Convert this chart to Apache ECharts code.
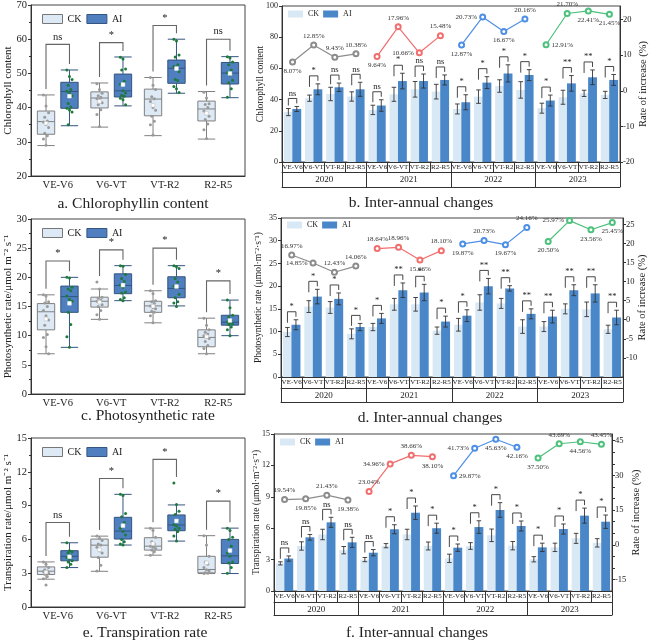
<!DOCTYPE html>
<html><head><meta charset="utf-8">
<script src="https://cdn.jsdelivr.net/npm/echarts@6.0.0/dist/echarts.min.js"></script>
<style>html,body{margin:0;padding:0;background:#fff}#c{width:656px;height:642px}</style>
</head><body><div id="c"></div>
<script>
// ---------------- DATA ----------------
const stages = ['VE-V6','V6-VT','VT-R2','R2-R5'];
const years = ['2020','2021','2022','2023'];
const stages16 = years.flatMap(() => stages);

// a. Chlorophyll box stats [min, Q1, median, Q3, max]
const chlBoxCK = [[28.9,32.2,35.9,39.0,43.7],[34.3,39.9,42.8,44.6,47.2],[31.8,37.6,42.5,45.4,48.8],[30.8,36.1,39.6,41.9,44.7]];
const chlBoxAI = [[34.7,39.8,44.7,47.4,51.0],[40.5,43.1,44.9,49.8,54.8],[44.2,47.1,51.5,53.9,60.0],[42.9,46.9,50.1,53.2,54.9]];
const chlPtsCK = [[43.7,40.5,38.5,37.2,36.1,35.8,35.1,34.2,32.5,31.8,30.8,29.0],[47.0,45.3,44.2,43.5,43.0,42.6,42.3,41.4,40.8,39.4,38.0,34.5],[48.8,46.5,45.3,43.2,42.6,41.8,40.0,39.2,37.5,36.0,35.0,32.0],[44.5,42.8,41.1,40.9,40.0,39.0,38.2,37.5,36.5,35.2,33.5,31.0]];
const chlPtsAI = [[51.0,49.1,48.2,46.5,45.3,44.8,44.2,43.5,41.2,40.2,39.8,39.3,38.7,35.0],[54.7,54.2,51.3,51.0,47.7,46.8,44.9,44.3,43.6,43.3,42.7,42.3,40.8],[60.0,59.5,55.4,54.8,52.5,52.0,51.6,50.5,48.2,47.9,46.2,45.5,44.4],[54.9,54.5,53.3,52.5,51.0,50.2,49.5,48.0,47.3,45.5,43.0]];
const chlBracket = [58.5,59,64,60];
const chlSig = ['ns','*','*','ns'];

// c. Photosynthetic rate
const phoBoxCK = [[6.9,11.0,14.1,15.5,17.0],[12.8,14.9,15.9,16.6,18.0],[12.2,14.0,15.1,15.9,17.7],[6.9,8.1,9.7,11.0,13.0]];
const phoBoxAI = [[8.0,14.0,16.7,18.5,20.0],[16.0,17.2,18.6,20.6,22.0],[15.1,16.5,18.1,20.1,22.0],[10.0,11.8,12.3,13.5,16.1]];
const phoPtsCK = [[17.0,16.8,15.8,15.6,15.0,14.3,13.4,12.7,11.8,10.2,9.7,8.1,6.9],[19.2,18.0,16.6,16.4,16.1,15.9,15.8,15.3,15.0,14.3,13.6,12.8],[17.7,17.2,16.0,15.8,15.5,15.1,14.8,14.6,14.2,14.0,13.4,12.2],[13.0,11.8,11.0,10.6,10.3,10.0,9.7,9.5,9.0,8.3,7.8,6.9]];
const phoPtsAI = [[20.0,19.9,18.3,18.0,17.7,16.8,16.2,15.9,14.0,11.9,9.8,8.0],[22.0,21.9,20.5,19.8,19.3,18.7,18.3,17.5,17.3,16.5,16.2,16.0],[22.0,21.8,21.5,19.8,19.2,18.5,18.3,17.1,16.5,15.8,15.6,15.0],[16.1,14.8,13.5,13.2,12.6,12.4,12.2,12.0,11.9,11.5,11.0,10.0]];
const phoBracket = [22.8,24.7,25.0,19.4];
const phoSig = ['*','*','*','*'];

// e. Transpiration rate
const traBoxCK = [[2.47,2.88,3.18,3.56,4.0],[3.17,4.42,5.49,6.03,6.29],[4.6,5.05,5.4,6.15,7.0],[2.97,3.03,3.33,4.5,6.33]];
const traBoxAI = [[3.5,4.1,4.5,5.0,5.7],[5.5,6.03,6.74,7.96,10.0],[5.85,6.77,7.28,8.17,9.06],[2.97,3.86,4.54,6.0,7.0]];
const traPtsCK = [[4.0,3.8,3.5,3.3,3.2,3.15,3.1,3.0,2.9,2.7,2.5,1.95],[6.3,6.1,5.9,5.6,5.5,5.3,5.0,4.8,4.4,3.7,3.2],[7.0,6.8,6.2,5.8,5.6,5.4,5.3,5.2,5.05,4.9,4.6],[6.33,5.5,4.5,4.0,3.8,3.5,3.3,3.2,3.05,3.0,2.97]];
const traPtsAI = [[5.7,5.0,4.9,4.8,4.6,4.4,4.3,4.1,4.0,3.8,3.5],[10.0,9.9,8.3,8.0,7.5,7.0,6.7,6.4,6.0,5.8,5.6,5.5],[11.0,9.1,8.5,8.2,7.6,7.3,7.2,7.0,6.9,6.7,6.3,5.85],[7.0,6.8,6.2,6.0,5.4,4.8,4.5,4.0,3.9,3.5,3.0]];
const traBracket = [7.5,11.4,13.1,9.4];
const traSig = ['ns','*','*','*'];

// b. Chlorophyll inter-annual (mean, sd)
const chlCK   = [32.0,40.9,43.6,42.0, 33.4,43.4,46.6,45.1, 34.0,41.9,48.7,46.2, 34.5,41.5,44.0,43.0];
const chlCKsd = [2.3,2.0,4.3,3.0, 3.0,4.5,5.0,4.7, 3.2,4.3,4.0,5.3, 3.2,4.5,2.0,2.3];
const chlAI   = [34.0,46.6,47.9,46.6, 36.2,51.9,51.9,52.6, 38.3,50.9,56.8,55.7, 39.4,50.4,54.3,52.6];
const chlAIsd = [1.6,3.5,2.7,4.5, 3.7,5.0,4.5,3.2, 4.8,3.8,5.5,3.5, 3.5,5.0,4.7,3.5];
const chlRate = [8.07,12.85,9.43,10.38, 9.64,17.96,10.66,15.48, 12.87,20.73,16.67,20.16, 12.91,21.70,22.41,21.45];
const chlYearSig = ['ns','*','ns','ns', 'ns','*','ns','ns', '*','*','*','*', '*','**','**','*'];

// d. Photosynthetic inter-annual
const phoCK   = [9.9,15.5,15.3,9.5, 11.0,16.0,16.0,10.2, 11.5,16.4,16.2,11.1, 11.1,15.0,14.9,10.5];
const phoCKsd = [1.0,1.3,1.3,1.1, 0.8,1.3,1.5,0.8, 1.4,1.7,1.1,1.5, 1.1,1.1,1.6,0.9];
const phoAI   = [11.5,17.7,17.2,11.0, 12.9,19.1,18.6,12.2, 13.5,20.0,19.5,13.9, 13.3,19.1,18.4,13.1];
const phoAIsd = [1.1,1.6,1.3,0.8, 1.1,1.6,1.8,1.2, 1.3,1.7,0.6,1.1, 1.4,1.2,1.9,1.6];
const phoRate = [16.97,14.85,12.43,14.06, 18.64,18.96,15.66,18.10, 19.87,20.73,19.67,24.16, 20.50,25.97,23.56,25.45];
const phoYearSig = ['*','*','*','*', '*','**','*','*', '*','**','**','**', '**','**','**','**'];

// f. Transpiration inter-annual
const traCK   = [2.64,4.3,5.4,3.9, 3.0,4.33,5.4,4.3, 3.12,4.3,5.32,4.33, 3.03,4.17,5.03,4.6];
const traCKsd = [0.15,0.4,0.5,0.35, 0.2,0.2,0.5,0.38, 0.4,0.32,0.6,0.4, 0.25,0.4,0.48,0.4];
const traAI   = [3.1,5.13,6.56,4.65, 3.66,5.9,7.48,6.0, 4.14,6.11,7.74,6.21, 4.17,5.92,7.2,6.62];
const traAIsd = [0.25,0.27,0.48,0.48, 0.3,0.43,0.64,0.48, 0.35,0.6,0.7,0.48, 0.4,0.48,0.72,0.64];
const traRate = [19.54,19.85,21.43,19.38, 23.04,34.96,38.66,38.10, 29.87,41.73,45.63,42.16, 37.50,43.69,44.56,43.45];
const traYearSig = ['ns','ns','ns','ns', 'ns','*','*','*', '*','*','*','*', '*','*','*','*'];

// ---------------- STYLE ----------------
const FONT = '"Liberation Serif","Times New Roman",serif';
const TXT = '#222';
const CK_BOX = '#dde9f5', AI_BOX = '#4f7fbf';
const CK_BAR = '#d9e8f5', AI_BAR = '#4a87c9';
const YEAR_COLORS = ['#8c8c8c','#f26d6d','#4d8fe6','#4dc17c'];
const BAR_W = 0.42, BAR_GAP = -0.05;
const BAR_OFF = BAR_W * (1 + BAR_GAP) / 2;
function boxOffset(bw){ return 0.2875 * (0.8 * bw - 2); }

function txtStyle(text, x, y, size, va){
  return {text, x, y, font: size + 'px ' + FONT, fill: TXT,
    align:'center', verticalAlign: va, textAlign:'center', textVerticalAlign: va};
}

const option = {animation:false, textStyle:{fontFamily:FONT, color:TXT},
  grid:[], xAxis:[], yAxis:[], series:[], legend:[], title:[]};

function addGrid(g){
  option.grid.push(Object.assign({show:true, borderColor:'#444', borderWidth:1,
    backgroundColor:'transparent', containLabel:false, outerBoundsMode:'none'}, g));
  return option.grid.length - 1;
}
function addTitle(text, x, y){
  option.title.push({text, left:x, top:y, textAlign:'center', padding:0,
    textStyle:{fontFamily:FONT, fontSize:15.5, fontWeight:'normal', color:TXT}});
}

// ---------------- BOX PANELS ----------------
const boxPanels = [
  {grid:{left:31, top:5, width:214, height:171}, min:20, max:70, interval:10, name:'Chlorophyll content',
   ck:chlBoxCK, ai:chlBoxAI, ckPts:chlPtsCK, aiPts:chlPtsAI, bracket:chlBracket, sig:chlSig,
   legendTop:14, title:'a. Chlorophyllin content', tx:133, ty:196},
  {grid:{left:31, top:219, width:214, height:175}, min:0, max:30, interval:5, name:'Photosynthetic rate/μmol m⁻² s⁻¹',
   ck:phoBoxCK, ai:phoBoxAI, ckPts:phoPtsCK, aiPts:phoPtsAI, bracket:phoBracket, sig:phoSig,
   legendTop:228, title:'c. Photosynthetic rate', tx:148, ty:408},
  {grid:{left:31, top:438, width:214, height:169}, min:0, max:15, interval:3, name:'Transpiration rate/μmol m⁻² s⁻¹',
   ck:traBoxCK, ai:traBoxAI, ckPts:traPtsCK, aiPts:traPtsAI, bracket:traBracket, sig:traSig,
   legendTop:447, title:'e. Transpiration rate', tx:145, ty:625}
];

function renderPoint(params, api){
  const c = api.value(0), v = api.value(1), g = api.value(2), j = api.value(3);
  const bw = api.size([1,0])[0];
  const p = api.coord([c, v]);
  const x = p[0] + (g ? 1 : -1) * boxOffset(bw) + (((j * 7) % 5) - 2) * 1.3;
  return {type:'circle', shape:{cx:x, cy:p[1], r:1.5}, style:{fill: g ? '#1d7a3b' : '#9a9a9a'}};
}
function renderMean(params, api){
  const c = api.value(0), v = api.value(1), g = api.value(2);
  const bw = api.size([1,0])[0];
  const p = api.coord([c, v]);
  const x = p[0] + (g ? 1 : -1) * boxOffset(bw);
  return {type:'rect', shape:{x:x-1.8, y:p[1]-1.8, width:3.6, height:3.6},
    style:{fill:'#fff', stroke: g ? '#ffffff' : '#bbbbbb', lineWidth:0.5}};
}
function boxBracketRender(sig){
  return function(params, api){
    const c = api.value(0);
    const bw = api.size([1,0])[0];
    const off = boxOffset(bw);
    const p = api.coord([c, api.value(1)]);
    const yc = api.coord([c, api.value(2)])[1];
    const ya = api.coord([c, api.value(3)])[1];
    const xl = p[0] - off, xr = p[0] + off, yb = p[1];
    return {type:'group', children:[
      {type:'polyline', shape:{points:[[xl, yc-6],[xl, yb],[xr, yb],[xr, ya-6]]},
       style:{stroke:'#666', lineWidth:1.1, fill:null}},
      {type:'text', style: txtStyle(sig[api.value(4)], p[0], yb - 2, 10.5, 'bottom')}
    ]};
  };
}

boxPanels.forEach(p => {
  const gi = addGrid(p.grid);
  const xi = option.xAxis.length;
  option.xAxis.push({gridIndex:gi, type:'category', data:stages,
    axisLine:{show:true, onZero:false, lineStyle:{color:'#333'}}, axisTick:{show:false},
    axisLabel:{fontSize:10.5, color:TXT, margin:4, interval:0}, splitLine:{show:false}});
  const yi = option.yAxis.length;
  option.yAxis.push({gridIndex:gi, type:'value', min:p.min, max:p.max, interval:p.interval,
    axisLine:{show:true, onZero:false, lineStyle:{color:'#333'}}, axisTick:{show:true, length:3, lineStyle:{color:'#333'}},
    minorTick:{show:true, splitNumber:2, length:2, lineStyle:{color:'#333'}},
    splitLine:{show:false}, minorSplitLine:{show:false},
    axisLabel:{fontSize:10.5, color:TXT, margin:4},
    name:p.name, nameLocation:'middle', nameGap:17, nameMoveOverlap:false, nameTextStyle:{fontSize:11, color:TXT}});
  option.series.push(
    {type:'boxplot', name:'CK', xAxisIndex:xi, yAxisIndex:yi, data:p.ck, z:2,
     itemStyle:{color:CK_BOX, borderColor:'#808080', borderWidth:1}, emphasis:{disabled:true}},
    {type:'boxplot', name:'AI', xAxisIndex:xi, yAxisIndex:yi, data:p.ai, z:2,
     itemStyle:{color:AI_BOX, borderColor:'#34557f', borderWidth:1}, emphasis:{disabled:true}}
  );
  const pts = [], means = [], br = [];
  [p.ckPts, p.aiPts].forEach((arr, g) => arr.forEach((vals, c) => {
    vals.forEach((v, j) => pts.push([c, v, g, j]));
    means.push([c, vals.reduce((s, v) => s + v, 0) / vals.length, g]);
  }));
  p.bracket.forEach((b, c) => br.push([c, b,
    Math.max(p.ck[c][4], ...p.ckPts[c]), Math.max(p.ai[c][4], ...p.aiPts[c]), c]));
  option.series.push(
    {type:'custom', xAxisIndex:xi, yAxisIndex:yi, data:pts, renderItem:renderPoint, z:4, silent:true},
    {type:'custom', xAxisIndex:xi, yAxisIndex:yi, data:means, renderItem:renderMean, z:5, silent:true},
    {type:'custom', xAxisIndex:xi, yAxisIndex:yi, data:br, renderItem:boxBracketRender(p.sig), z:4, silent:true}
  );
  option.legend.push({left:42, top:p.legendTop, orient:'horizontal', itemWidth:20, itemHeight:9, itemGap:5,
    selectedMode:false, padding:0, textStyle:{fontSize:10, color:TXT, fontFamily:FONT},
    data:[{name:'CK', icon:'rect', itemStyle:{color:CK_BOX, borderColor:'#777', borderWidth:1}},
          {name:'AI', icon:'rect', itemStyle:{color:AI_BOX, borderColor:'#34557f', borderWidth:1}}]});
  addTitle(p.title, p.tx, p.ty);
});

// ---------------- BAR PANELS ----------------
const barPanels = [
  {grid:{left:282, top:6, width:338, height:156}, max:100, interval:20, name:'Chlorophyll content', nameGap:17,
   rMin:-20, rMax:23.8, rInt:10, rStep:10, rNameGap:18, row1:10, row2:25,
   ck:chlCK, ckSd:chlCKsd, ai:chlAI, aiSd:chlAIsd, rate:chlRate, sig:chlYearSig,
   pos:['bottom','top','top','top','bottom','top','left','top','bottom','left','bottom','top','right','top','bottom','bottom'],
   legendLeft:288, legendTop:10, title:'b. Inter-annual changes', tx:421, ty:195},
  {grid:{left:281, top:218, width:342, height:159}, max:35, interval:5, name:'Photosynthetic rate (μmol·m⁻²·s⁻¹)', nameGap:18,
   rMin:-15, rMax:26.65, rInt:5, rStep:5, rNameGap:14, row1:11, row2:25,
   ck:phoCK, ckSd:phoCKsd, ai:phoAI, aiSd:phoAIsd, rate:phoRate, sig:phoYearSig,
   pos:['top','left','top','top','top','top','bottom','top','bottom','top','bottom','top','bottom','left','bottom','bottom'],
   legendLeft:287, legendTop:221, title:'d. Inter-annual changes', tx:430, ty:410},
  {grid:{left:274, top:434, width:338, height:157}, max:15, interval:3, name:'Transpiration rate (μmol·m⁻²·s⁻¹)', nameGap:13,
   rMin:-20, rMax:47.9, rInt:5, rStep:15, rNameGap:19, row1:11, row2:24,
   ck:traCK, ckSd:traCKsd, ai:traAI, aiSd:traAIsd, rate:traRate, sig:traYearSig,
   pos:['top','bottom','top','bottom','top','left','top','bottom','right','left','bottom','bottom','bottom','top','bottom','top'],
   legendLeft:280, legendTop:438, title:'f. Inter-annual changes', tx:417, ty:625}
];

function renderErr(params, api){
  const i = api.value(0), m = api.value(1), sd = api.value(2), s = api.value(3);
  const bw = api.size([1,0])[0];
  const t = api.coord([i, m + sd]), b = api.coord([i, m - sd]);
  const x = t[0] + (s ? 1 : -1) * bw * BAR_OFF;
  const st = {stroke:'#333', lineWidth:0.9};
  return {type:'group', children:[
    {type:'line', shape:{x1:x, y1:t[1], x2:x, y2:b[1]}, style:st},
    {type:'line', shape:{x1:x-2.3, y1:t[1], x2:x+2.3, y2:t[1]}, style:st},
    {type:'line', shape:{x1:x-2.3, y1:b[1], x2:x+2.3, y2:b[1]}, style:st}
  ]};
}
function barBracketRender(sig){
  return function(params, api){
    const i = api.value(0);
    const bw = api.size([1,0])[0];
    const off = bw * BAR_OFF;
    const c = api.coord([i, 0]);
    const yc = api.coord([i, api.value(1)])[1];
    const ya = api.coord([i, api.value(2)])[1];
    const yb = Math.min(yc, ya) - 8;
    const xl = c[0] - off, xr = c[0] + off;
    return {type:'group', children:[
      {type:'polyline', shape:{points:[[xl, Math.min(yc-3, yb+11)],[xl, yb],[xr, yb],[xr, Math.min(ya-3, yb+11)]]},
       style:{stroke:'#333', lineWidth:0.9, fill:null}},
      {type:'text', style: txtStyle(sig[api.value(3)], c[0], yb - 0.5, 8.5, 'bottom')}
    ]};
  };
}

barPanels.forEach(p => {
  const gi = addGrid(p.grid);
  const xs = option.xAxis.length;
  option.xAxis.push(
    {gridIndex:gi, type:'category', data:stages16, position:'bottom',
     axisLine:{show:true, onZero:false, lineStyle:{color:'#333'}},
     axisTick:{show:true, length:p.row1, inside:false, alignWithLabel:false, interval:0, lineStyle:{color:'#333'}},
     axisLabel:{fontSize:7, color:TXT, margin:2, interval:0}, splitLine:{show:false}},
    {gridIndex:gi, type:'category', data:years, position:'bottom', offset:p.row1,
     axisLine:{show:true, onZero:false, lineStyle:{color:'#333'}},
     axisTick:{show:true, length:p.row2 - p.row1, inside:false, alignWithLabel:false, interval:0, lineStyle:{color:'#333'}},
     axisLabel:{fontSize:9, color:TXT, margin:3, interval:0}, splitLine:{show:false}},
    {gridIndex:gi, type:'category', data:years, position:'bottom', offset:p.row2,
     axisLine:{show:true, onZero:false, lineStyle:{color:'#333'}}, axisTick:{show:false}, axisLabel:{show:false}, splitLine:{show:false}}
  );
  const yl = option.yAxis.length;
  option.yAxis.push(
    {gridIndex:gi, type:'value', position:'left', min:0, max:p.max, interval:p.interval,
     axisLine:{show:true, onZero:false, lineStyle:{color:'#333'}}, axisTick:{show:true, length:3, lineStyle:{color:'#333'}},
     splitLine:{show:false}, axisLabel:{fontSize:8, color:TXT, margin:4},
     name:p.name, nameLocation:'middle', nameGap:p.nameGap, nameMoveOverlap:false, nameTextStyle:{fontSize:9.5, color:TXT}},
    {gridIndex:gi, type:'value', position:'right', min:p.rMin, max:p.rMax, interval:p.rInt,
     axisLine:{show:true, onZero:false, lineStyle:{color:'#333'}}, axisTick:{show:true, length:3, lineStyle:{color:'#333'}},
     splitLine:{show:false}, axisLabel:{fontSize:8.5, color:TXT, margin:3, showMinLabel:p.rMin === -20 && p.rStep === 10, showMaxLabel:false,
       formatter: v => (Math.abs(v % p.rStep) < 1e-6 && v > p.rMin - 1e-6 && v <= p.rMax - 1) ? String(v) : ''},
     name:'Rate of increase (%)', nameLocation:'middle', nameGap:p.rNameGap, nameMoveOverlap:false, nameTextStyle:{fontSize:10.5, color:TXT}}
  );
  const yr = yl + 1;
  option.series.push(
    {type:'bar', name:'CK', xAxisIndex:xs, yAxisIndex:yl, data:p.ck, barWidth:(BAR_W*100)+'%', barGap:(BAR_GAP*100)+'%',
     itemStyle:{color:CK_BAR}, z:2, emphasis:{disabled:true}},
    {type:'bar', name:'AI', xAxisIndex:xs, yAxisIndex:yl, data:p.ai, barWidth:(BAR_W*100)+'%', barGap:(BAR_GAP*100)+'%',
     itemStyle:{color:AI_BAR}, z:2, emphasis:{disabled:true}},
    {type:'custom', xAxisIndex:xs, yAxisIndex:yl, silent:true, z:4,
     data: p.ck.map((v, i) => [i, v, p.ckSd[i], 0]).concat(p.ai.map((v, i) => [i, v, p.aiSd[i], 1])),
     renderItem: renderErr},
    {type:'custom', xAxisIndex:xs, yAxisIndex:yl, silent:true, z:4,
     data: p.ck.map((v, i) => [i, v + p.ckSd[i], p.ai[i] + p.aiSd[i], i]),
     renderItem: barBracketRender(p.sig)}
  );
  years.forEach((y, k) => {
    option.series.push({type:'line', xAxisIndex:xs, yAxisIndex:yr, z:6, silent:true,
      symbol:'emptyCircle', symbolSize:5,
      itemStyle:{color:YEAR_COLORS[k], borderWidth:1.1},
      lineStyle:{color:YEAR_COLORS[k], width:1.2},
      label:{show:true, fontSize:7, color:'#333', distance:2, fontFamily:FONT,
        formatter: q => Number(q.value).toFixed(2) + '%'},
      data: p.rate.map((v, i) => Math.floor(i / 4) === k ? {value:v, label:{position:p.pos[i]}} : '-')
    });
  });
  option.legend.push({left:p.legendLeft, top:p.legendTop, orient:'horizontal', itemWidth:15, itemHeight:7, itemGap:4,
    selectedMode:false, padding:0, textStyle:{fontSize:8, color:TXT, fontFamily:FONT},
    data:[{name:'CK', icon:'rect', itemStyle:{color:CK_BAR, borderWidth:0}},
          {name:'AI', icon:'rect', itemStyle:{color:AI_BAR, borderWidth:0}}]});
  addTitle(p.title, p.tx, p.ty);
});

const chart = echarts.init(document.getElementById('c'), null, {renderer:'canvas', width:656, height:642});
chart.setOption(option);
</script>
</body></html>
